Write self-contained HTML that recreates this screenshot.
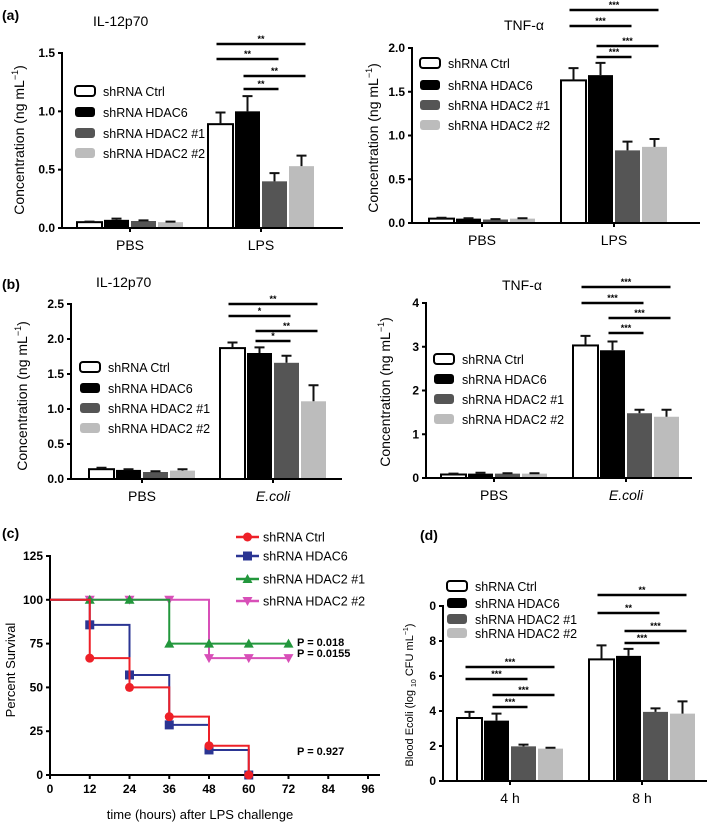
<!DOCTYPE html>
<html><head><meta charset="utf-8"><style>
html,body{margin:0;padding:0;background:#fff;}
svg{display:block;font-family:"Liberation Sans",sans-serif;}
</style></head><body>
<svg id="fig" width="709" height="824" viewBox="0 0 709 824" xmlns="http://www.w3.org/2000/svg">
<g font-weight="bold" font-size="14">
<text x="2" y="20">(a)</text>
<text x="2" y="289">(b)</text>
<text x="2" y="538">(c)</text>
<text x="420" y="540">(d)</text>
</g>
</svg>
<script>
const seriesNames = ["shRNA Ctrl","shRNA HDAC6","shRNA HDAC2  #1","shRNA HDAC2  #2"];
const sigPairs = [[0,3],[0,2],[1,3],[1,2]];
// panel a left
const aLGroups = ["PBS","LPS"];
const aLVals = [[0.05,0.07,0.06,0.05],[0.89,1.00,0.40,0.53]];
const aLErrs = [[0.005,0.01,0.005,0.005],[0.10,0.13,0.07,0.09]];
const aLTicks = [0,0.5,1.0,1.5];
const aLTickLabels = ["0.0","0.5","1.0","1.5"];
const aLSig = ["**","**","**","**"];
// panel a right
const aRGroups = ["PBS","LPS"];
const aRVals = [[0.05,0.05,0.04,0.05],[1.63,1.69,0.83,0.87]];
const aRErrs = [[0.01,0.005,0.005,0.005],[0.14,0.14,0.10,0.09]];
const aRTicks = [0,0.5,1.0,1.5,2.0];
const aRTickLabels = ["0.0","0.5","1.0","1.5","2.0"];
const aRSig = ["***","***","***","***"];
// panel b left
const bLGroups = ["PBS","E.coli"];
const bLVals = [[0.14,0.13,0.10,0.12],[1.87,1.80,1.66,1.11]];
const bLErrs = [[0.02,0.01,0.01,0.02],[0.08,0.08,0.10,0.23]];
const bLTicks = [0,0.5,1.0,1.5,2.0,2.5];
const bLTickLabels = ["0.0","0.5","1.0","1.5","2.0","2.5"];
const bLSig = ["**","*","**","*"];
// panel b right
const bRGroups = ["PBS","E.coli"];
const bRVals = [[0.08,0.10,0.10,0.10],[3.03,2.92,1.48,1.40]];
const bRErrs = [[0.02,0.02,0.01,0.01],[0.22,0.20,0.08,0.16]];
const bRTicks = [0,1,2,3,4];
const bRTickLabels = ["0","1","2","3","4"];
const bRSig = ["***","***","***","***"];
// panel d
const dGroups = ["4 h","8 h"];
const dVals = [[3.6,3.45,1.98,1.85],[6.95,7.15,3.95,3.85]];
const dErrs = [[0.35,0.4,0.1,0.05],[0.8,0.4,0.2,0.7]];
const dTicks = [0,2,4,6,8,10];
const dTickLabels = ["0","2","4","6","8","0"];
const dSig = ["***","***","***","***","**","**","***","***"];
// panel c survival
const survTicks = [0,25,50,75,100,125];
const survXTicks = [0,12,24,36,48,60,72,84,96];
const ctrlT = [0,12,24,36,48,60];
const ctrlS = [100,66.7,50,33.3,16.7,0];
const hdac6T = [0,12,24,36,48,60];
const hdac6S = [100,85.7,57.1,28.6,14.3,0];
const h2aT = [0,12,24,36,48,60,72];
const h2aS = [100,100,100,75,75,75,75];
const h2bT = [0,12,24,36,48,60,72];
const h2bS = [100,100,100,100,66.7,66.7,66.7];
const pLabels = ["P = 0.018","P = 0.0155","P = 0.927"];

const NS="http://www.w3.org/2000/svg";
const fig=document.getElementById('fig');
function mk(tag,attrs,parent,txt){const e=document.createElementNS(NS,tag);for(const k in attrs)e.setAttribute(k,attrs[k]);if(txt!==undefined)e.textContent=txt;(parent||fig).appendChild(e);return e;}
const fills=["#fff","#000","#555","#bcbcbc"];

function barPanel(name,c,groups,vals,errs,ticks,tlabels,sigs){
  const g=mk('g',{});
  
  
  const vMax=ticks[ticks.length-1];
  const y=v=>c.y0-v/vMax*(c.y0-c.yTop);
  const bx=(gi,bi)=>c.gx[gi]+bi*c.bw;
  vals.forEach((row,gi)=>row.forEach((v,bi)=>{
    const x=bx(gi,bi);
    const r=mk('rect',{x:x+1,y:y(v),width:c.bw-2,height:c.y0-y(v),fill:fills[bi],stroke:bi==0?'#000':'none','stroke-width':2},g);
    
    
    const e=errs[gi][bi];const xc=x+c.bw/2;
    const el=mk('path',{d:`M${xc},${y(v)}V${y(v+e)}M${xc-5},${y(v+e)}H${xc+5}`,stroke:'#111','stroke-width':2,fill:'none'},g);
    
    
  }));
  const ax=mk('path',{d:`M${c.ax},${c.yTop-1}V${c.y0}H${c.xEnd}`,stroke:'#000','stroke-width':2,fill:'none'},g);
  
  
  ticks.forEach((t,i)=>{
    mk('line',{x1:c.ax-4,x2:c.ax,y1:y(t),y2:y(t),stroke:'#000','stroke-width':2},g);
    const tl=mk('text',{x:c.ax-7,y:y(t)+4,'text-anchor':'end','font-size':12,'font-weight':'bold'},g,tlabels[i]);
    
    
  });
  groups.forEach((gn,gi)=>{
    const xc=c.gx[gi]+2*c.bw;
    mk('line',{x1:xc,x2:xc,y1:c.y0,y2:c.y0+4,stroke:'#000','stroke-width':2},g);
    const t=mk('text',{x:xc,y:c.y0+22,'text-anchor':'middle','font-size':14,'font-style':gn=='E.coli'?'italic':'normal'},g,gn);
    
    
  });
  if(c.ytitle){
    const yt=mk('text',{transform:`translate(${c.ax-c.ytitle},${c.ytY}) rotate(-90)`,'text-anchor':'middle','font-size':14},g);
    
    
    yt.innerHTML='Concentration (ng mL<tspan font-size="9" dy="-6">−1</tspan><tspan dy="6">)</tspan>';
  }
  if(c.title){
    const tt=mk('text',{x:c.title[0],y:c.title[1],'font-size':14},g,c.title[2]);
    
    
  }
  sigs.forEach((s,k)=>{
    const gi=c.sigGroup?c.sigGroup[k]:1;
    const p=sigPairs[k%4];
    const x1=bx(gi,p[0])+c.bw/2-4,x2=bx(gi,p[1])+c.bw/2+4;
    const l=mk('line',{x1:x1,x2:x2,y1:c.sigY[k],y2:c.sigY[k],stroke:'#000','stroke-width':2.5},g);
    
    
    const st=mk('text',{x:(x1+x2)/2,y:c.sigY[k]-2,'text-anchor':'middle','font-size':9,'font-weight':'bold'},g,s);
    
    
  });
  seriesNames.forEach((n,i)=>{
    const ly=c.legY[i];
    const sw=mk('rect',{x:c.legX,y:ly-5,width:20,height:10,rx:3,fill:fills[i],stroke:i==0?'#000':'none','stroke-width':2},g);
    
    
    const lt=mk('text',{x:c.legX+28,y:ly+5,'font-size':12.5},g,n);
    
    
  });
}

barPanel('il12-lps-chart',{ax:62,y0:228,yTop:53,xEnd:343,gx:[76,207],bw:27,ytitle:38,ytY:140,title:[93,26,'IL-12p70'],sigY:[44,59,76,89],legX:75,legY:[91,112,133,153]},aLGroups,aLVals,aLErrs,aLTicks,aLTickLabels,aLSig);
barPanel('tnf-lps-chart',{ax:412,y0:223,yTop:48,xEnd:700,gx:[428,560],bw:27,ytitle:34,ytY:138,title:[504,30,'TNF-α'],sigY:[10,26,46,57],legX:420,legY:[63,85,105,125]},aRGroups,aRVals,aRErrs,aRTicks,aRTickLabels,aRSig);
barPanel('il12-ecoli-chart',{ax:71,y0:479,yTop:304,xEnd:342,gx:[88,219],bw:27,ytitle:44,ytY:396,title:[96,287,'IL-12p70'],sigY:[304,316,331,341],legX:80,legY:[367,388,408,428]},bLGroups,bLVals,bLErrs,bLTicks,bLTickLabels,bLSig);
barPanel('tnf-ecoli-chart',{ax:426,y0:478,yTop:303,xEnd:692,gx:[440,572],bw:27,ytitle:36,ytY:392,title:[502,290,'TNF-α'],sigY:[287,303,318,333],legX:434,legY:[359,379,399,419]},bRGroups,bRVals,bRErrs,bRTicks,bRTickLabels,bRSig);
barPanel('blood-ecoli-chart',{ax:443,y0:781,yTop:606,xEnd:707,gx:[456,588],bw:27,sigGroup:[0,0,0,0,1,1,1,1],sigY:[667,679,695,707,595,613,631,643],legX:447,legY:[586,603,619,633]},dGroups,dVals,dErrs,dTicks,dTickLabels,dSig);
const dyt=mk('text',{transform:'translate(413,695) rotate(-90)','text-anchor':'middle','font-size':11});


dyt.innerHTML='Blood  Ecoli (log <tspan font-size="7" dy="3">10</tspan><tspan dy="-3"> CFU mL</tspan><tspan font-size="7" dy="-5">−1</tspan><tspan dy="5">)</tspan>';

(function(){
  const g=mk('g',{});
  
  
  const X0=50,X1=368,Y0=775,Y1=556;
  const sx=t=>X0+t/96*(X1-X0), sy=v=>Y0-v/125*(Y0-Y1);
  const ax=mk('path',{d:`M${X0},${Y1-1}V${Y0}H380`,stroke:'#000','stroke-width':2,fill:'none'},g);
  
  
  survTicks.forEach(t=>{
    mk('line',{x1:X0-4,x2:X0,y1:sy(t),y2:sy(t),stroke:'#000','stroke-width':2},g);
    const tl=mk('text',{x:X0-7,y:sy(t)+4,'text-anchor':'end','font-size':12,'font-weight':'bold'},g,String(t));
    
    
  });
  survXTicks.forEach(t=>{
    mk('line',{x1:sx(t),x2:sx(t),y1:Y0,y2:Y0+4,stroke:'#000','stroke-width':2},g);
    const tl=mk('text',{x:sx(t),y:Y0+18,'text-anchor':'middle','font-size':12,'font-weight':'bold'},g,String(t));
    
    
  });
  const xt=mk('text',{x:200,y:819,'text-anchor':'middle','font-size':13},g,'time (hours) after LPS  challenge');
  
  
  const yt=mk('text',{transform:'translate(15,670) rotate(-90)','text-anchor':'middle','font-size':13},g,'Percent Survival');
  
  
  const series=[[ctrlT,ctrlS,'#ee2028','circle'],[hdac6T,hdac6S,'#2b3593','square'],[h2aT,h2aS,'#22973c','tri'],[h2bT,h2bS,'#d84fb8','tridown']];
  function marker(x,y,col,kind,parent){
    let m;
    if(kind=='circle')m=mk('circle',{cx:x,cy:y,r:4.5,fill:col},parent);
    else if(kind=='square')m=mk('rect',{x:x-4.5,y:y-4.5,width:9,height:9,fill:col},parent);
    else if(kind=='tri')m=mk('path',{d:`M${x},${y-5}L${x+5},${y+4}L${x-5},${y+4}Z`,fill:col},parent);
    else m=mk('path',{d:`M${x},${y+5}L${x+5},${y-4}L${x-5},${y-4}Z`,fill:col},parent);
    
    
  }
  series.slice().reverse().forEach(([T,S,col,kind])=>{
    let d=`M${sx(T[0])},${sy(S[0])}`;
    for(let i=1;i<T.length;i++)d+=`H${sx(T[i])}V${sy(S[i])}`;
    const p=mk('path',{d:d,stroke:col,'stroke-width':2,fill:'none'},g);
    
    
    for(let i=1;i<T.length;i++)marker(sx(T[i]),sy(S[i]),col,kind,g);
  });
  const legY=[537,556,579,601];
  series.forEach(([T,S,col,kind],i)=>{
    mk('line',{x1:236,x2:259,y1:legY[i],y2:legY[i],stroke:col,'stroke-width':2.5},g);
    marker(247.5,legY[i],col,kind,g);
    const lt=mk('text',{x:263,y:legY[i]+4.5,'font-size':12.5},g,seriesNames[i]);
    
    
  });
  const pY=[646,657,755];
  pLabels.forEach((p,i)=>{
    const t=mk('text',{x:297,y:pY[i],'font-size':11,'font-weight':'bold'},g,p);
    
    
  });
})();
</script>
</body></html>
